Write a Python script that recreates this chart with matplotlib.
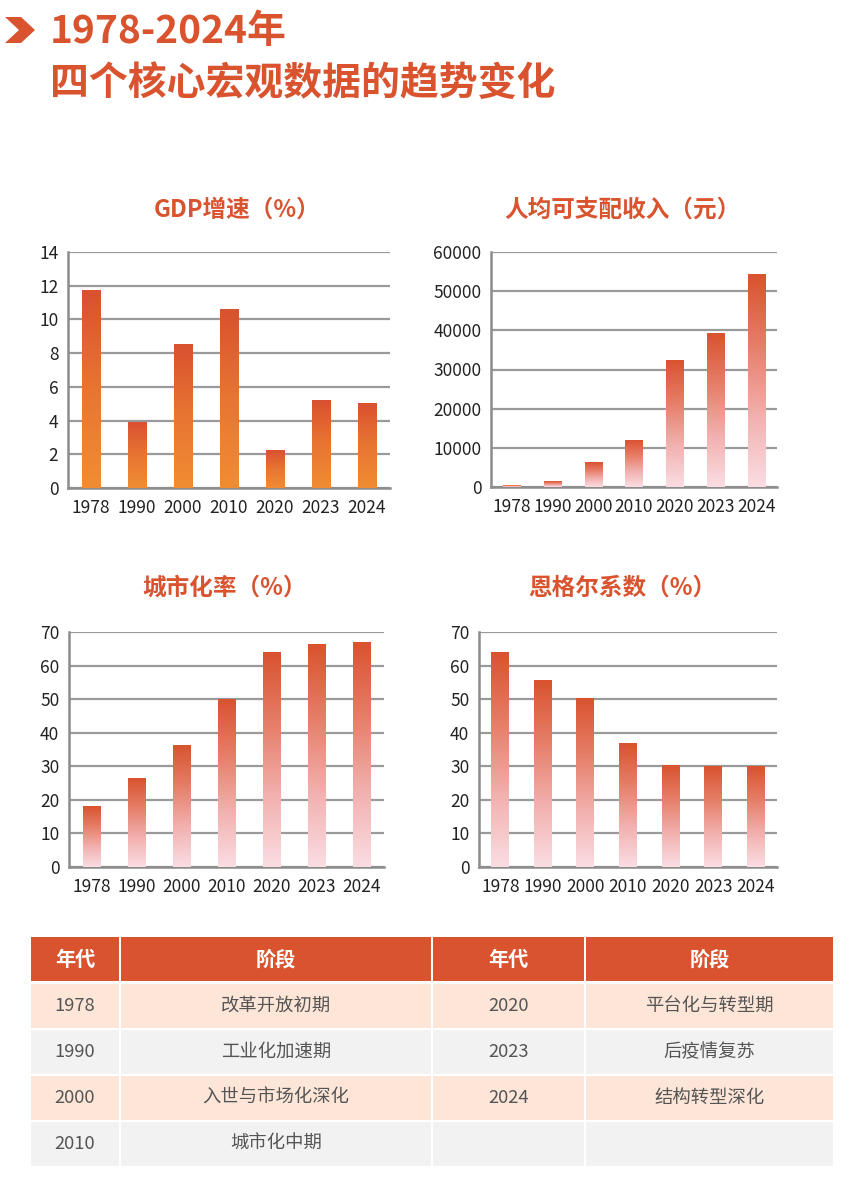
import matplotlib

matplotlib.use("Agg")
import matplotlib.pyplot as plt
import numpy as np
from matplotlib.colors import LinearSegmentedColormap
from matplotlib.patches import Polygon, Rectangle

plt.rcParams["font.family"] = ["Noto Sans CJK SC", "DejaVu Sans"]

W, H = 854, 1180
RED = "#D9532F"

years = ["1978", "1990", "2000", "2010", "2020", "2023", "2024"]
gdp_growth = [11.7, 3.9, 8.5, 10.6, 2.2, 5.2, 5.0]
income = [343, 1510, 6280, 12000, 32189, 39218, 54188]
urban_rate = [17.9, 26.4, 36.2, 50.0, 63.9, 66.2, 67.0]
engel = [63.9, 55.6, 50.2, 36.8, 30.3, 29.8, 29.8]

table_years_left = ["1978", "1990", "2000", "2010"]
table_stage_left = ["改革开放初期", "工业化加速期", "入世与市场化深化", "城市化中期"]
table_years_right = ["2020", "2023", "2024", ""]
table_stage_right = ["平台化与转型期", "后疫情复苏", "结构转型深化", ""]

orange_cmap = LinearSegmentedColormap.from_list("orange", ["#F08D33", "#E87532", "#D9512F"])
pink_cmap = LinearSegmentedColormap.from_list("pink", ["#FADDE3", "#F2B0AE", "#E67E68", "#D9532F"])


def px_axes(fig, left, right, top, bottom):
    return fig.add_axes([left / W, 1 - bottom / H, (right - left) / W, (bottom - top) / H])


def gradient_bars(ax, values, cmap, ymax, yticks, width=0.4):
    grad = np.linspace(0, 1, 256).reshape(-1, 1)
    for i, v in enumerate(values):
        ax.imshow(grad, cmap=cmap, origin="lower", aspect="auto",
                  extent=(i - width / 2, i + width / 2, 0, v), zorder=3)
    ax.set_xlim(-0.5, len(values) - 0.5)
    ax.set_ylim(0, ymax)
    ax.set_xticks(range(len(values)))
    ax.set_xticklabels(years)
    ax.set_yticks(yticks)
    ax.grid(axis="y", color="#9A9A9A", linewidth=1.6, zorder=1)
    ax.set_axisbelow(True)
    for side in ["top", "right"]:
        ax.spines[side].set_visible(False)
    for side in ["left", "bottom"]:
        ax.spines[side].set_color("#8C8C8C")
        ax.spines[side].set_linewidth(1.8)
    ax.tick_params(axis="both", length=0, labelsize=12.5, colors="#222222")
    ax.tick_params(axis="y", pad=7)
    ax.tick_params(axis="x", pad=8)
    ax.set_facecolor("none")


fig = plt.figure(figsize=(W / 100, H / 100), dpi=100)
fig.patch.set_facecolor("white")

# full-figure overlay in pixel coordinates for header and table
bg = fig.add_axes([0, 0, 1, 1])
bg.set_xlim(0, W)
bg.set_ylim(H, 0)
bg.axis("off")

bg.add_patch(Polygon([(5, 17), (21, 17), (35, 30), (21, 43), (5, 43), (19, 30)],
                     closed=True, color=RED, lw=0))
bg.text(50, 31, "1978-2024年", fontsize=28, fontweight="bold", color=RED, va="center")
bg.text(50, 83, "四个核心宏观数据的趋势变化", fontsize=28, fontweight="bold", color=RED, va="center")

# chart titles
title_kw = dict(fontsize=17, fontweight="bold", color=RED, ha="center", va="center")
bg.text(237, 210, "GDP增速（%）", **title_kw)
bg.text(622, 210, "人均可支配收入（元）", **title_kw)
bg.text(225, 588, "城市化率（%）", **title_kw)
bg.text(622, 588, "恩格尔系数（%）", **title_kw)

# table
cols = [30, 120, 432, 585, 834]
header_top, row_h = 937, 46
gap = 1.2
headers = ["年代", "阶段", "年代", "阶段"]
for c in range(4):
    x0, x1 = cols[c] + gap, cols[c + 1] - gap
    bg.add_patch(Rectangle((x0, header_top), x1 - x0, row_h - 2 * gap, color=RED, lw=0))
    bg.text((x0 + x1) / 2, header_top + row_h / 2 - 1, headers[c], color="white",
            fontsize=14.5, fontweight="bold", ha="center", va="center")

for r in range(4):
    y0 = header_top + row_h * (r + 1)
    fill = "#FDE6D8" if r % 2 == 0 else "#F2F2F2"
    cells = [table_years_left[r], table_stage_left[r], table_years_right[r], table_stage_right[r]]
    for c in range(4):
        x0, x1 = cols[c] + gap, cols[c + 1] - gap
        bg.add_patch(Rectangle((x0, y0 + gap), x1 - x0, row_h - 2 * gap, color=fill, lw=0))
        bg.text((x0 + x1) / 2, y0 + row_h / 2, cells[c], color="#555555",
                fontsize=13.2, ha="center", va="center")

ax1 = px_axes(fig, 68, 390, 252, 488)
gradient_bars(ax1, gdp_growth, orange_cmap, 14, range(0, 15, 2))

ax2 = px_axes(fig, 491, 777, 252, 487)
gradient_bars(ax2, income, pink_cmap, 60000, range(0, 60001, 10000), width=0.42)

ax3 = px_axes(fig, 69, 384, 632, 867)
gradient_bars(ax3, urban_rate, pink_cmap, 70, range(0, 71, 10))

ax4 = px_axes(fig, 479, 777, 632, 867)
gradient_bars(ax4, engel, pink_cmap, 70, range(0, 71, 10), width=0.42)

fig.savefig("out.png", dpi=100)
